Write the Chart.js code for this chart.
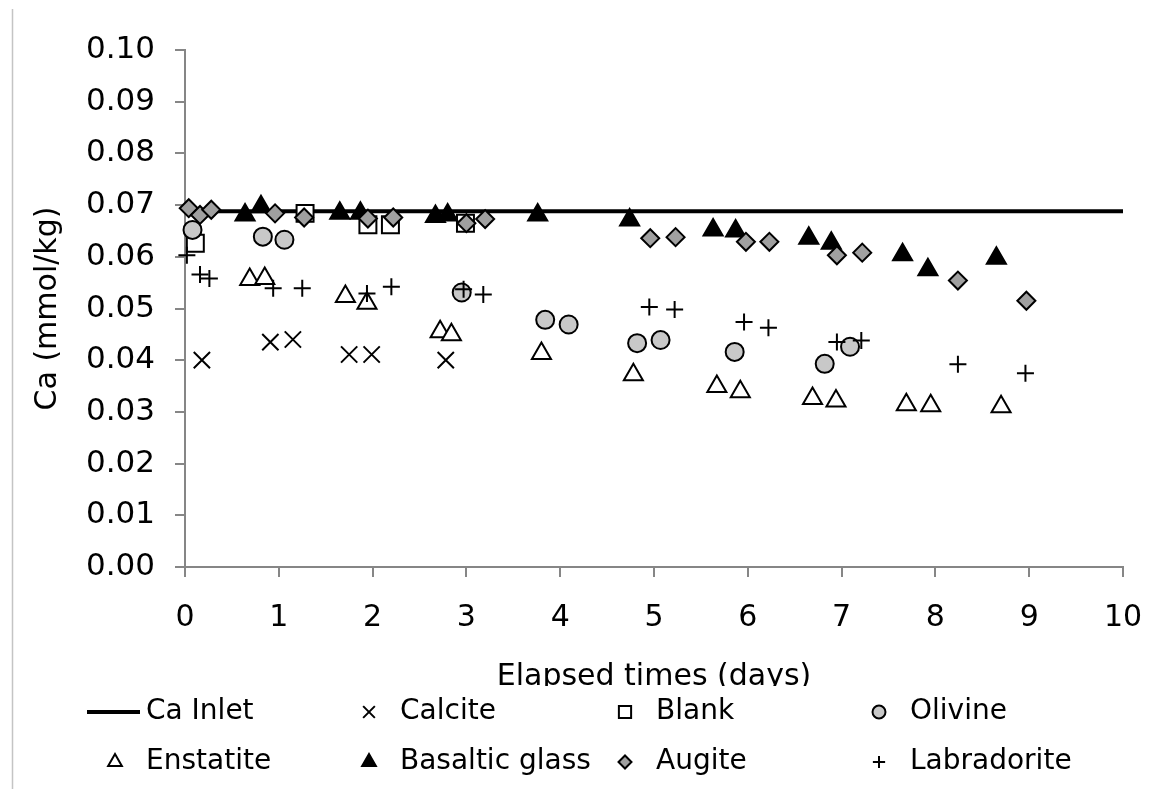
<!DOCTYPE html>
<html>
<head>
  <meta charset="UTF-8" />
  <title>Ca vs elapsed time</title>
  <style>
    html, body { margin: 0; padding: 0; background: #fff; }
    #wrap { width: 1151px; height: 789px; position: relative; }
  </style>
</head>
<body>
  <div id="wrap"><canvas id="caChart"></canvas></div>
  <script src="https://cdn.jsdelivr.net/npm/chart.js"></script>
  <script>
    // values (x = days, y = mmol/kg)
    const inletX = [0, 10];
    const inletY = [0.0688, 0.0688];

    const calciteX = [0.18, 0.91, 1.15, 1.75, 1.99, 2.78];
    const calciteY = [0.0400, 0.0435, 0.0440, 0.0411, 0.0411, 0.0400];

    const blankX = [0.11, 1.28, 1.95, 2.19, 2.99];
    const blankY = [0.0626, 0.0684, 0.0662, 0.0662, 0.0665];

    const olivineX = [0.08, 0.83, 1.06, 2.95, 3.84, 4.09, 4.82, 5.07, 5.86, 6.82, 7.09];
    const olivineY = [0.0652, 0.0639, 0.0633, 0.0531, 0.0478, 0.0469, 0.0433, 0.0439, 0.0416, 0.0393, 0.0426];

    const enstatiteX = [0.69, 0.85, 1.71, 1.94, 2.72, 2.84, 3.80, 4.78, 5.67, 5.92, 6.69, 6.94, 7.69, 7.95, 8.70];
    const enstatiteY = [0.0556, 0.0558, 0.0523, 0.0510, 0.0455, 0.0449, 0.0413, 0.0372, 0.0349, 0.0339, 0.0326, 0.0321, 0.0314, 0.0312, 0.0310];

    const basalticX = [0.64, 0.81, 1.65, 1.87, 2.67, 2.80, 3.76, 4.74, 5.63, 5.87, 6.65, 6.89, 7.65, 7.92, 8.65];
    const basalticY = [0.0681, 0.0697, 0.0684, 0.0684, 0.0678, 0.0681, 0.0681, 0.0671, 0.0652, 0.0650, 0.0636, 0.0626, 0.0604, 0.0575, 0.0597];

    const augiteX = [0.04, 0.16, 0.28, 0.96, 1.27, 1.95, 2.22, 3.00, 3.20, 4.96, 5.23, 5.98, 6.23, 6.95, 7.22, 8.24, 8.97];
    const augiteY = [0.0694, 0.0681, 0.0691, 0.0684, 0.0676, 0.0674, 0.0676, 0.0665, 0.0673, 0.0636, 0.0638, 0.0629, 0.0629, 0.0603, 0.0608, 0.0554, 0.0515];

    const labradoriteX = [0.02, 0.16, 0.26, 0.94, 1.25, 1.94, 2.20, 2.97, 3.18, 4.95, 5.22, 5.96, 6.22, 6.95, 7.21, 8.24, 8.96];
    const labradoriteY = [0.0603, 0.0566, 0.0558, 0.0539, 0.0539, 0.0529, 0.0542, 0.0537, 0.0527, 0.0503, 0.0498, 0.0474, 0.0463, 0.0435, 0.0438, 0.0392, 0.0375];

    const xTitle = 'Elapsed times (days)';
    const yTitle = 'Ca (mmol/kg)';

    const pts = (xs, ys) => xs.map((x, i) => ({ x: x, y: ys[i] }));
    const FONT = 'DejaVu Sans';

    const marker = (label, xs, ys, style, radius, fill) => ({
      label: label,
      data: pts(xs, ys),
      pointStyle: style,
      pointRadius: radius,
      pointHoverRadius: radius,
      pointBackgroundColor: fill,
      pointBorderColor: '#000',
      pointBorderWidth: 2,
      showLine: false,
      clip: false
    });

    const datasets = [
      {
        label: 'Ca Inlet',
        data: pts(inletX, inletY),
        showLine: true,
        borderColor: '#000',
        borderWidth: 4,
        pointRadius: 0,
        clip: false
      },
      marker('Calcite', calciteX, calciteY, 'crossRot', 11.5, '#000'),
      marker('Blank', blankX, blankY, 'rect', 12, '#fff'),
      marker('Olivine', olivineX, olivineY, 'circle', 9, '#c8c8c8'),
      marker('Enstatite', enstatiteX, enstatiteY, 'triangle', 11, '#fff'),
      marker('Basaltic glass', basalticX, basalticY, 'triangle', 11, '#000'),
      marker('Augite', augiteX, augiteY, 'rectRot', 9, '#a0a0a0'),
      marker('Labradorite', labradoriteX, labradoriteY, 'cross', 8.5, '#000')
    ];
    // later series on top, like the original
    datasets.forEach((d, i) => { d.order = datasets.length - i; });

    // legend in a 4 x 2 grid, plus the frame line and title clipping
    const gridLegend = {
      id: 'gridLegend',
      afterDraw(chart) {
        const ctx = chart.ctx;
        ctx.save();
        ctx.fillStyle = '#fff';
        ctx.fillRect(14, 686, chart.width, chart.height - 686);

        ctx.strokeStyle = '#c4c4c4';
        ctx.lineWidth = 1.5;
        ctx.beginPath();
        ctx.moveTo(12.5, 9);
        ctx.lineTo(12.5, chart.height);
        ctx.stroke();

        const colX = [146, 400, 656, 910];
        const rowY = [712, 762];
        ctx.font = '28px "' + FONT + '"';
        ctx.textBaseline = 'middle';
        ctx.textAlign = 'left';
        chart.data.datasets.forEach((ds, i) => {
          const tx = colX[i % 4];
          const ty = rowY[Math.floor(i / 4)];
          if (ds.showLine) {
            ctx.strokeStyle = ds.borderColor;
            ctx.lineWidth = ds.borderWidth;
            ctx.beginPath();
            ctx.moveTo(tx - 59, ty);
            ctx.lineTo(tx - 6, ty);
            ctx.stroke();
          } else {
            ctx.fillStyle = ds.pointBackgroundColor;
            ctx.strokeStyle = ds.pointBorderColor;
            ctx.lineWidth = 2;
            Chart.helpers.drawPoint(ctx, {
              pointStyle: ds.pointStyle,
              radius: ds.pointRadius * 0.72,
              rotation: 0,
              borderWidth: 2
            }, tx - 31, ty);
          }
          ctx.fillStyle = '#000';
          ctx.fillText(ds.label, tx, ty);
        });
        ctx.restore();
      }
    };

    new Chart(document.getElementById('caChart'), {
      type: 'scatter',
      data: { datasets: datasets },
      options: {
        responsive: true,
        maintainAspectRatio: false,
        animation: false,
        events: [],
        layout: { padding: { left: 0, right: 28, top: 50, bottom: 91 } },
        plugins: {
          legend: { display: false },
          tooltip: { enabled: false }
        },
        scales: {
          x: {
            type: 'linear',
            min: 0,
            max: 10,
            afterFit(scale) {
              scale.height = 131;
              scale.paddingLeft = 0;
              scale.paddingRight = 0;
            },
            border: { color: '#868686', width: 2 },
            grid: { drawOnChartArea: false, drawTicks: true, tickLength: 10, color: '#868686', lineWidth: 2 },
            ticks: {
              stepSize: 1,
              padding: 23,
              color: '#000',
              font: { family: FONT, size: 30 }
            },
            title: {
              display: true,
              text: xTitle,
              color: '#000',
              padding: { top: 4, bottom: 3 },
              font: { family: FONT, size: 30 }
            }
          },
          y: {
            type: 'linear',
            min: 0,
            max: 0.1,
            afterFit(scale) { scale.width = 185; },
            border: { color: '#868686', width: 2 },
            grid: { drawOnChartArea: false, drawTicks: true, tickLength: 10, color: '#868686', lineWidth: 2 },
            ticks: {
              stepSize: 0.01,
              padding: 20,
              color: '#000',
              font: { family: FONT, size: 31 },
              callback: v => v.toFixed(2)
            },
            title: {
              display: true,
              text: yTitle,
              color: '#000',
              padding: { top: 30, bottom: 0 },
              font: { family: FONT, size: 30 }
            }
          }
        }
      },
      plugins: [gridLegend]
    });
  </script>
</body>
</html>
